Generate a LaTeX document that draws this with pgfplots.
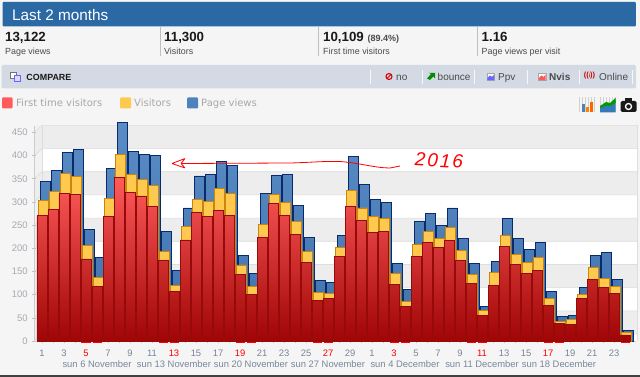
\documentclass[border=0pt]{standalone}
\usepackage{fontspec}
\setmainfont{Liberation Sans}
\newfontfamily\dv{DejaVu Sans}
\usepackage{pgfplots}
\usepackage{pgfplotstable}
\pgfplotsset{compat=1.18}
\definecolor{barblue}{HTML}{2B69A5}
\definecolor{panel}{HTML}{D3DAE3}
\definecolor{bg}{HTML}{F5F5F5}
\definecolor{band}{HTML}{EDEDED}
\definecolor{bandline}{HTML}{DDDDDD}
\definecolor{ticktxt}{HTML}{A4AAB2}
\definecolor{xtxt}{HTML}{76879A}
\definecolor{legtxt}{HTML}{A8A8A8}
\definecolor{dk}{HTML}{4A4A4A}
\definecolor{sblue}{HTML}{4F81BD}
\definecolor{sblueT}{HTML}{5A8CC4}
\definecolor{sblueB}{HTML}{3F72AE}
\definecolor{syel}{HTML}{FFC84F}
\definecolor{syelE}{HTML}{C9860A}
\definecolor{sredT}{HTML}{FF5B5B}
\definecolor{sredM}{HTML}{E23C3C}
\definecolor{sredB}{HTML}{A00404}
\definecolor{sredE}{HTML}{960A0A}
\definecolor{snavy}{HTML}{0B2A6B}
\newcommand{\fs}[1]{\fontsize{#1}{#1}\selectfont}
\pgfplotstableread{
d r y b
1 271 303 344
2 283 322 367
3 319 362 407
4 317 355 413
5 177 206 241
6 117 138 181
7 269 307 373
8 353 402 471
9 320 360 408
10 313 349 403
11 291 335 400
12 173 194 236
13 106 120 153
14 218 247 287
15 278 306 356
16 269 302 360
17 281 329 388
18 271 318 378
19 143 164 185
20 100 117 145
21 223 251 319
22 296 316 358
23 271 298 360
24 229 258 293
25 169 193 224
26 87 104 130
27 91 102 126
28 182 202 228
29 290 324 399
30 261 287 337
31 234 269 306
32 236 264 299
33 122 145 168
34 74 85 111
35 183 208 257
36 213 236 275
37 201 221 250
38 217 244 287
39 173 195 221
40 125 144 168
41 55 66 74
42 119 147 171
43 203 227 264
44 166 186 221
45 145 169 198
46 153 181 213
47 77 91 106
48 37 42 52
49 35 47 55
50 91 100 116
51 133 158 184
52 115 135 190
53 102 117 132
54 13 18 23
}\datatable
\begin{document}
\begin{tikzpicture}[x=1pt,y=-1pt]
\path[use as bounding box] (0,0) rectangle (640,377);
\fill[bg] (0,0) rectangle (640,377);
\fill[black!75] (0,375.2) rectangle (640,377);
% title bar
\fill[barblue,rounded corners=1pt] (2.5,2) rectangle (635.8,26.5);
\node[anchor=west,inner sep=0pt,text=white] at (12,14.6) {\fs{15.3}Last 2 months};
% stats
\foreach \xs in {160.3,318.5,477.3} \draw[black!25,line width=0.6pt] (\xs,27) -- (\xs,56.5);
\node[anchor=base west,inner sep=0pt,text=black!90] at (5,42) {\fs{13.3}\bfseries 13,122};
\node[anchor=base west,inner sep=0pt,text=dk] at (5,55) {\fs{8.9}Page views};
\node[anchor=base west,inner sep=0pt,text=black!90] at (164,42) {\fs{13.3}\bfseries 11,300};
\node[anchor=base west,inner sep=0pt,text=dk] at (164,55) {\fs{8.9}Visitors};
\node[anchor=base west,inner sep=0pt,text=black!90] at (323,42) {\fs{13.3}\bfseries 10,109 {\fs{9}\color{dk}(89.4\%)}};
\node[anchor=base west,inner sep=0pt,text=dk] at (323,55) {\fs{8.9}First time visitors};
\node[anchor=base west,inner sep=0pt,text=black!90] at (481.5,42) {\fs{13.3}\bfseries 1.16};
\node[anchor=base west,inner sep=0pt,text=dk] at (481.5,55) {\fs{8.9}Page views per visit};
% compare bar
\fill[panel,rounded corners=1.5pt] (1.5,65) rectangle (636,88.5);
\draw[black!55,line width=0.6pt,fill=white] (10.5,72) rectangle (16.5,78);
\draw[blue!60,line width=0.6pt,fill=blue!15] (14,75) rectangle (20,81);
\node[anchor=base west,inner sep=0pt,text=black!90] at (26.3,80.5) {\fs{8.9}\bfseries COMPARE};
\foreach \xs in {370.3,422,474,527,579,632} \draw[white!80!panel,line width=0.7pt] (\xs,70) -- (\xs,84);
\draw[red!85!black,line width=1.1pt] (389,76.5) circle (3);
\draw[red!85!black,line width=1pt] (387,78.5) -- (391,74.5);
\node[anchor=base west,inner sep=0pt,text=dk] at (396,80.5) {\fs{10}no};
\fill[green!55!black] (427,78.5) -- (431,74) -- (429,73) -- (435,73) -- (435,78.5) -- (433.4,76.5) -- (430,80) -- cycle;
\node[anchor=base west,inner sep=0pt,text=dk] at (437.5,80.5) {\fs{10}bounce};
\draw[black!35,fill=white,line width=0.4pt] (487,73) rectangle (494.5,80.5);
\fill[blue!60] (487.3,80.2) -- (487.3,78) -- (490,75.5) -- (492,77) -- (494.2,74.5) -- (494.2,80.2) -- cycle;
\node[anchor=base west,inner sep=0pt,text=dk] at (498,80.5) {\fs{10}Ppv};
\draw[black!35,fill=white,line width=0.4pt] (538.5,73) rectangle (546,80.5);
\fill[red!65] (538.8,80.2) -- (538.8,78) -- (541.5,75.5) -- (543.5,77) -- (545.7,74.5) -- (545.7,80.2) -- cycle;
\node[anchor=base west,inner sep=0pt,text=dk] at (549,80.5) {\fs{10}\bfseries Nvis};
\node[inner sep=0pt,text=red!80!black] at (589.5,75.5) {\fs{7.5}\bfseries ((\raisebox{0.3pt}{\fs{5}i}))};
\node[anchor=base west,inner sep=0pt,text=dk] at (599,80.5) {\fs{10}Online};
% legend
\fill[sredT,rounded corners=1pt] (2,97.5) rectangle (12.5,108.5);
\node[anchor=base west,inner sep=0pt,text=legtxt] at (16,107) {\dv\fs{10}First time visitors};
\fill[syel,rounded corners=1pt] (120,97.5) rectangle (131,108.5);
\node[anchor=base west,inner sep=0pt,text=legtxt] at (134,107) {\dv\fs{10}Visitors};
\fill[sblue,rounded corners=1pt] (187,97.5) rectangle (198,108.5);
\node[anchor=base west,inner sep=0pt,text=legtxt] at (201,107) {\dv\fs{10}Page views};
% tool icons
\draw[black!18,line width=0.3pt] (578.5,97.5) grid[step=3] (594,112);
\fill[sblue] (582,104) rectangle (584.5,112);
\fill[orange] (586,107) rectangle (588.5,112);
\fill[orange!80!red] (590,102) rectangle (592.5,112);
\draw[black!18,line width=0.3pt] (600,97.5) grid[step=3] (615.5,112);
\fill[teal!70!blue!80] (600,112.5) -- (600,106) -- (606,104) -- (611,105) -- (615.5,100) -- (615.5,112.5) -- cycle;
\fill[green!60!black] (600,106) -- (606,102) -- (610,103) -- (615.5,98) -- (615.5,103) -- (610,106) -- (606,105.5) -- (600,108) -- cycle;
\fill[black!90,rounded corners=1.5pt] (620.5,101) rectangle (636.5,112);
\fill[black!90] (625,98.5) rectangle (632,102);
\fill[white] (628.5,106.5) circle (3.7);
\fill[black!90] (628.5,106.5) circle (2.2);
% chart walls
\fill[white] (34.3,125) rectangle (637,341);
\fill[bg!60!band] (34.3,125) -- (42,125.4) -- (42,334) -- (34.3,341) -- cycle;
\foreach \v in {0,100,200,300,400} {
  \pgfmathsetmacro{\ya}{341-0.4636*(\v+50)}
  \pgfmathsetmacro{\yb}{341-0.4636*\v}
  \fill[band] (34.3,\ya) -- (42,\ya-7) -- (637,\ya-7) -- (637,\yb-7) -- (42,\yb-7) -- (34.3,\yb) -- cycle;
}
\foreach \v in {0,50,...,450} {
  \pgfmathsetmacro{\ya}{341-0.4636*\v}
  \draw[bandline,line width=0.6pt] (34.3,\ya) -- (42,\ya-7) -- (637,\ya-7);
}
\draw[bandline,line width=0.6pt] (42,125.4) -- (42,334);
\draw[bandline,line width=0.6pt] (637,125.4) -- (637,341);
\begin{axis}[
  at={(34.3pt,-341pt)},anchor=south west,
  scale only axis,width=601.7pt,height=215.1pt,
  xmin=0.3,xmax=55,ymin=0,ymax=464,
  clip=false,
  axis lines=left,
  axis line style={-,draw=black!20,line width=0.8pt},
  ytick={0,50,...,450},
  xtick={1,3,...,53},
  minor x tick num=1,
  xticklabels={1,3,\textcolor{red}{5},7,9,11,\textcolor{red}{13},15,17,\textcolor{red}{19},21,23,25,\textcolor{red}{27},29,1,\textcolor{red}{3},5,7,9,\textcolor{red}{11},13,15,\textcolor{red}{17},19,21,23},
  extra x ticks={6,13,20,27,34,41,48},
  extra x tick labels={sun 6 November,sun 13 November,sun 20 November,sun 27 November,sun 4 December,sun 11 December,sun 18 December},
  extra x tick style={major tick length=0pt,tick label style={yshift=-13.5pt,text=xtxt!80!black,font=\fs{9.2}}},
  tick style={draw=black!25,line width=0.6pt},
  major tick length=4pt,
  minor tick length=3pt,
  y tick label style={text=ticktxt,font=\fs{9.5},xshift=-1pt,/pgf/number format/assume math mode=true},
  x tick label style={text=xtxt,font=\fs{9.4},yshift=-3pt},
]
\addplot[ybar,bar width=10pt,bar shift=3.3pt,draw=snavy,line width=0.9pt,top color=sblueT,bottom color=sblueB] table[x=d,y=b] {\datatable};
\addplot[ybar,bar width=10pt,bar shift=1.7pt,draw=syelE,line width=0.9pt,fill=syel] table[x=d,y=y] {\datatable};
\addplot[ybar,bar width=10pt,bar shift=0pt,draw=sredE,line width=0.8pt,top color=sredT,middle color=sredM,bottom color=sredB] table[x=d,y=r] {\datatable};
\addplot[only marks,mark=-,mark size=4.5pt,mark options={draw=red,line width=0.7pt}] coordinates {(5,-2.5)(6,-2.5)(12,-2.5)(13,-2.5)(19,-2.5)(20,-2.5)(26,-2.5)(27,-2.5)(33,-2.5)(34,-2.5)(40,-2.5)(41,-2.5)(47,-2.5)(48,-2.5)(54,-2.5)};
\end{axis}
% annotation
\draw[red,line width=0.8pt,rounded corners=0.5pt] (185,158.5) -- (172,163.5) -- (185,168) -- (181,163.5) -- cycle;
\draw[red,line width=0.8pt] (181,163.5) -- (290,163) .. controls (310,162.5) and (325,161) .. (340,161.5) .. controls (360,163) and (375,168) .. (390,168) -- (400,166);
\node[inner sep=0pt,text=red,rotate=-3] at (439,160.5) {\addfontfeature{LetterSpace=10}\fs{19}\itshape 2016};
\end{tikzpicture}
\end{document}
